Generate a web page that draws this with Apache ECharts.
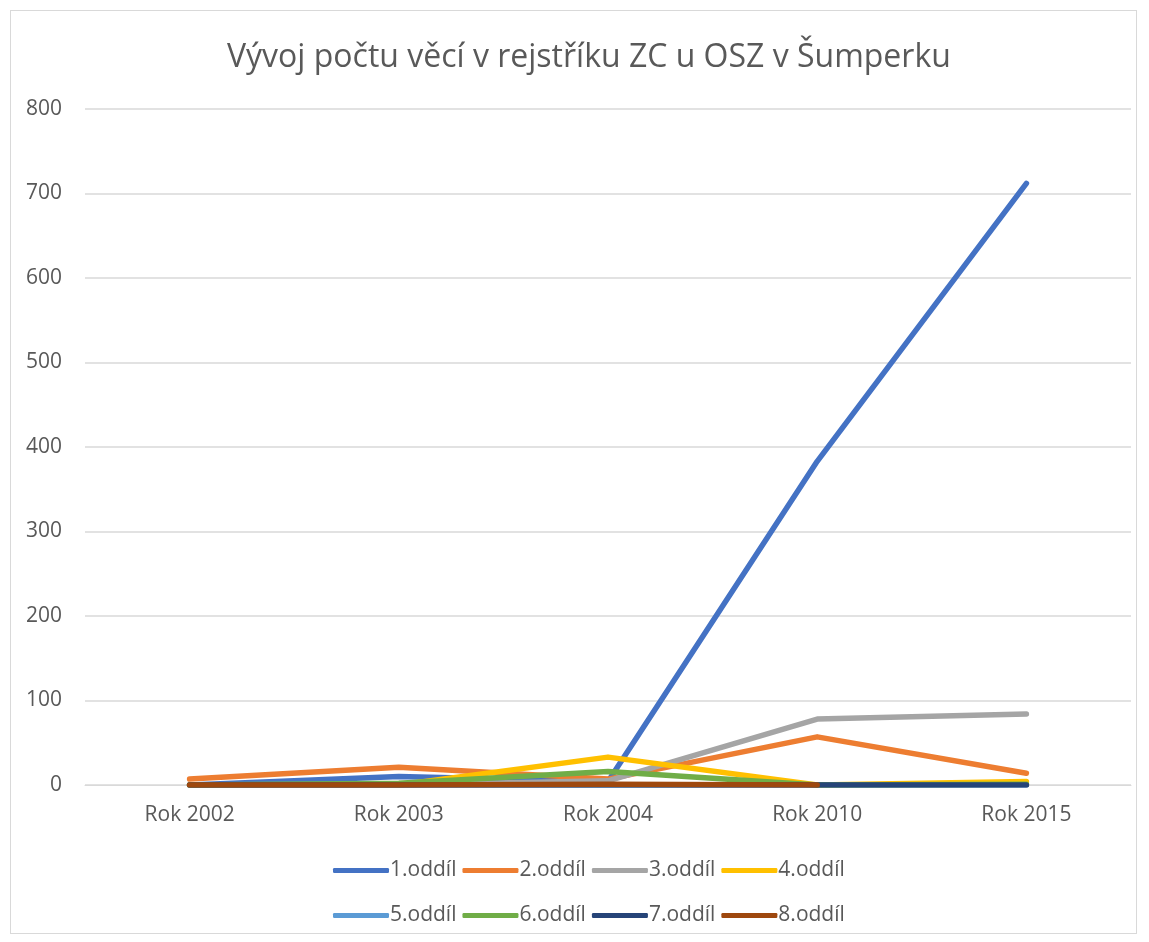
<!DOCTYPE html>
<html><head><meta charset="utf-8">
<script src="https://cdn.jsdelivr.net/npm/echarts@6/dist/echarts.min.js"></script>
<style>html,body{margin:0;padding:0;background:#fff}#frame{position:absolute;left:10px;top:10px;width:1127px;height:924px;border:1px solid #d9d9d9;box-sizing:border-box}#c{position:absolute;left:0;top:0;width:1149px;height:942px}</style>
</head><body><div id="frame"></div><div id="c"></div>
<script>
const categories = ['Rok 2002','Rok 2003','Rok 2004','Rok 2010','Rok 2015'];
const s1 = [0, 10, 4, 383, 712];
const s2 = [7, 21, 7, 57, 14];
const s3 = [0, 0, 5, 78, 84];
const s4 = [0, 0, 33, 0, 4];
const s5 = [0, 0, 0, 0, 0];
const s6 = [0, 2, 16, 0, 1];
const s7 = [0, 0, 0, 0, 0];
const s8 = [0, 0, 1, 0, null];
const seriesNames = ['1.oddíl','2.oddíl','3.oddíl','4.oddíl','5.oddíl','6.oddíl','7.oddíl','8.oddíl'];
const seriesData = [s1,s2,s3,s4,s5,s6,s7,s8];
const colors = ['#4472C4','#ED7D31','#A5A5A5','#FFC000','#5B9BD5','#70AD47','#264478','#9E480E'];
const yTicks = {min:0, max:800, interval:100};

const chart = echarts.init(document.getElementById('c'));
const legendBase = {
  left: 328, itemWidth: 56, itemHeight: 5, itemGap: 6,
  icon: 'roundRect',
  textStyle: {fontFamily: 'Open Sans', fontSize: 21, color: '#595959', padding:[0,0,0,-4]}
};
chart.setOption({
  color: colors,
  animation: false,
  title: {text: 'Vývoj počtu věcí v rejstříku ZC u OSZ v Šumperku', left: 222, top: 37,
    textStyle: {fontFamily: 'Open Sans', fontWeight: 'normal', fontSize: 32, color: '#595959'}},
  grid: {left: 85, right: 18, top: 109, bottom: 157},
  legend: [
    Object.assign({}, legendBase, {top: 855, data: seriesNames.slice(0,4)}),
    Object.assign({}, legendBase, {top: 900, data: seriesNames.slice(4)})
  ],
  xAxis: {type: 'category', data: categories, boundaryGap: true,
    axisLine: {lineStyle: {color: '#d9d9d9', width: 1}}, axisTick: {show: false},
    axisLabel: {fontFamily: 'Open Sans', fontSize: 21, color: '#595959', margin: 20}},
  yAxis: {type: 'value', min: yTicks.min, max: yTicks.max, interval: yTicks.interval,
    axisLine: {show: false}, axisTick: {show: false},
    splitLine: {lineStyle: {color: '#d9d9d9', width: 1.5}},
    axisLabel: {fontFamily: 'Open Sans', fontSize: 21, color: '#595959', margin: 23}},
  series: seriesNames.map((n, i) => ({
    name: n, type: 'line', data: seriesData[i], symbol: 'none',
    lineStyle: {width: 5.5, cap: 'round', join: 'round'}
  }))
});
</script></body></html>
